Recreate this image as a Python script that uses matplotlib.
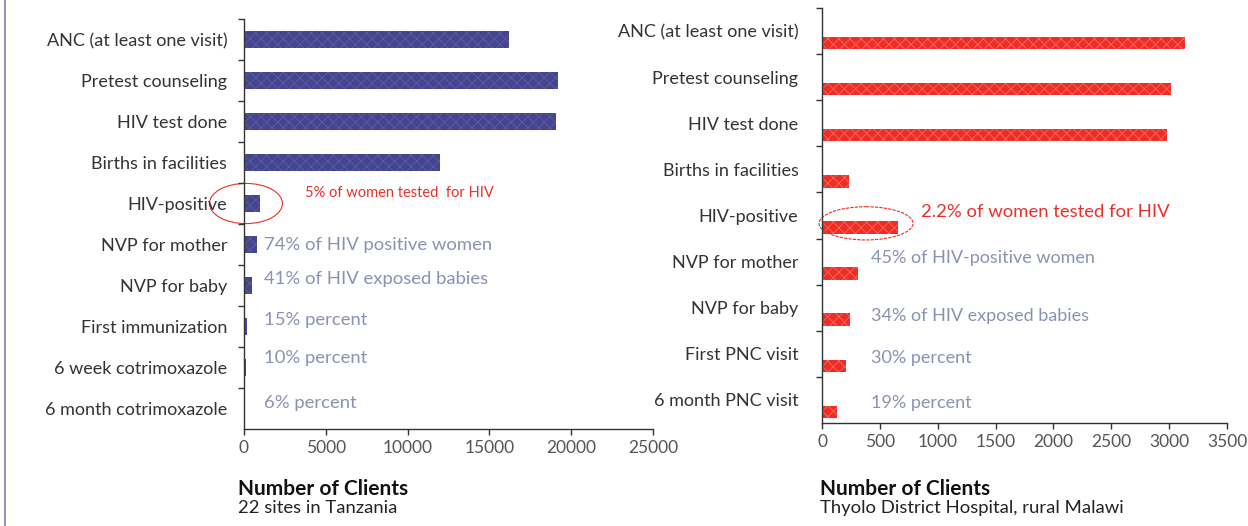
"""PMTCT cascade: number of clients at each step, Tanzania vs rural Malawi."""

import matplotlib
matplotlib.use("Agg")
from matplotlib import pyplot as plt
from matplotlib.patches import Ellipse
import numpy as np

TZ_STEPS = ["ANC (at least one visit)", "Pretest counseling", "HIV test done",
            "Births in facilities", "HIV-positive", "NVP for mother",
            "NVP for baby", "First immunization", "6 week cotrimoxazole",
            "6 month cotrimoxazole"]
TZ_CLIENTS = [16200, 19200, 19050, 12000, 1000, 800, 500, 200, 100, 40]
TZ_NOTES = ["74% of HIV positive women", "41% of HIV exposed babies",
            "15% percent", "10% percent", "6% percent"]
TZ_HIGHLIGHT = "5% of women tested  for HIV"
TZ_TICKS = [0, 5000, 10000, 15000, 20000, 25000]

MW_STEPS = ["ANC (at least one visit)", "Pretest counseling", "HIV test done",
            "Births in facilities", "HIV-positive", "NVP for mother",
            "NVP for baby", "First PNC visit", "6 month PNC visit"]
MW_CLIENTS = [3140, 3020, 2985, 230, 660, 310, 245, 205, 130]
MW_NOTES = ["45% of HIV-positive women", "34% of HIV exposed babies",
            "30% percent", "19% percent"]
MW_HIGHLIGHT = "2.2% of women tested for HIV"
MW_TICKS = [0, 500, 1000, 1500, 2000, 2500, 3000, 3500]

FONT = "Lato"
LABEL_COLOR = "#333333"
NOTE_COLOR = "#8a92b4"
RED = "#e8302a"
SPINE_STYLE = dict(color="#333333", linewidth=1.0, linestyle=(0, (2, 1)))


def style_axis(ax, steps, ticks, pad):
    n = len(steps)
    ax.set_ylim(n - 0.5, -0.5)
    ax.set_xlim(ticks[0], ticks[-1])
    ax.set_yticks(range(n))
    ax.set_yticklabels(steps, fontsize=13, color=LABEL_COLOR, family=FONT)
    ax.set_yticks(np.arange(n) - 0.5, minor=True)
    ax.tick_params(axis="y", which="major", length=0, pad=pad)
    ax.tick_params(axis="y", which="minor", length=4, width=1, color="#333333")
    ax.set_xticks(ticks)
    ax.set_xticklabels([str(t) for t in ticks], fontsize=12.5, color="#555555",
                       family=FONT)
    ax.tick_params(axis="x", length=4, width=1, color="#333333", pad=4)
    for side in ("top", "right"):
        ax.spines[side].set_visible(False)
    for side in ("left", "bottom"):
        ax.spines[side].set(**SPINE_STYLE)


def main():
    plt.rcParams["hatch.linewidth"] = 0.6
    fig = plt.figure(figsize=(12.48, 5.26), dpi=100)

    # left panel: 22 sites in Tanzania
    ax1 = fig.add_axes([0.1955, 0.1844, 0.3277, 0.7795])
    y1 = np.arange(len(TZ_STEPS))
    ax1.barh(y1, TZ_CLIENTS, height=0.41, color="#45458e",
             edgecolor="#5c5ca8", linewidth=0, hatch="xxx")
    style_axis(ax1, TZ_STEPS, TZ_TICKS, pad=12)
    ax1.add_patch(Ellipse((120, 4.0), 4460, 0.98, fill=False, edgecolor=RED,
                          linewidth=0.8, clip_on=False))
    ax1.text(3730, 3.74, TZ_HIGHLIGHT, color=RED, fontsize=10.5, family=FONT,
             va="center")
    for yv, note in zip([5.01, 5.84, 6.84, 7.77, 8.87], TZ_NOTES):
        ax1.text(1220, yv, note, color=NOTE_COLOR, fontsize=13.3, family=FONT,
                 va="center")

    # right panel: district hospital, rural Malawi
    ax2 = fig.add_axes([0.6587, 0.1958, 0.3245, 0.789])
    y2 = np.arange(len(MW_STEPS)) + 0.26
    ax2.barh(y2, MW_CLIENTS, height=0.27, color="#ee2e26",
             edgecolor="#f66a5e", linewidth=0, hatch="xxx")
    style_axis(ax2, MW_STEPS, MW_TICKS, pad=17)
    ax2.add_patch(Ellipse((380, 4.17), 812, 0.72, fill=False, edgecolor=RED,
                          linewidth=0.8, linestyle=(0, (3, 1)), clip_on=False))
    ax2.text(855, 3.93, MW_HIGHLIGHT, color=RED, fontsize=13.3, family=FONT,
             va="center")
    for yv, note in zip([4.93, 6.17, 7.09, 8.07], MW_NOTES):
        ax2.text(423, yv, note, color=NOTE_COLOR, fontsize=13, family=FONT,
                 va="center")

    # captions under each panel
    fig.text(238 / 1248, 1 - 489 / 526, "Number of Clients", fontsize=15,
             fontweight="bold", family=FONT, color="#111111", va="center")
    fig.text(238 / 1248, 1 - 508 / 526, "22 sites in Tanzania", fontsize=13.3,
             family=FONT, color="#222222", va="center")
    fig.text(820 / 1248, 1 - 489 / 526, "Number of Clients", fontsize=15,
             fontweight="bold", family=FONT, color="#111111", va="center")
    fig.text(820 / 1248, 1 - 508 / 526, "Thyolo District Hospital, rural Malawi",
             fontsize=13.3, family=FONT, color="#222222", va="center")

    # thin frame line on the left edge
    fig.add_artist(plt.Line2D([5 / 1248, 5 / 1248], [0, 1], color="#8080a8",
                              linewidth=1.2, transform=fig.transFigure))

    fig.savefig("out.png", dpi=100)


if __name__ == "__main__":
    main()
